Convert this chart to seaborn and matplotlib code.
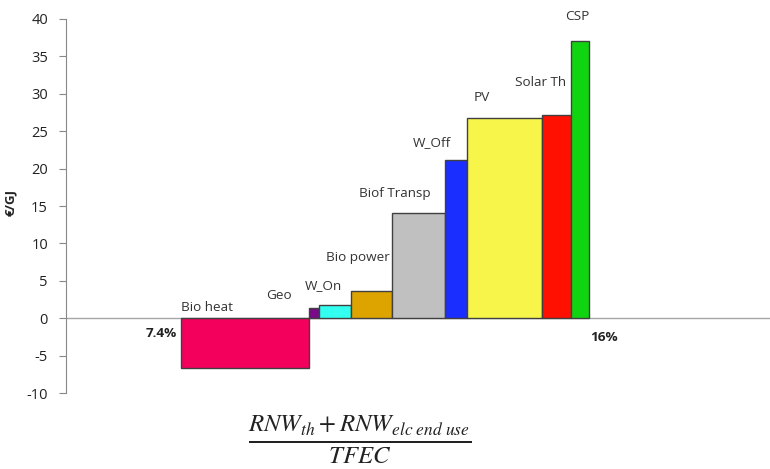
import numpy as np
import matplotlib
matplotlib.use("Agg")
import matplotlib.pyplot as plt
import seaborn as sns

# supply cost curve: share of TFEC (width, %-points) and cost (EUR/GJ)
techs = ['Bio heat', 'Geo', 'W_On', 'Bio power', 'Biof Transp', 'W_Off', 'PV', 'Solar Th', 'CSP']
share_width = [2.69, 0.21, 0.69, 0.86, 1.11, 0.46, 1.58, 0.61, 0.38]
cost = [-6.7, 1.3, 1.8, 3.6, 14.1, 21.2, 26.8, 27.2, 37.1]
colors = ['#F2005C', '#7A0A8A', '#33FFF0', '#DDA400', '#C0C0C0',
          '#1A2EFF', '#F8F54A', '#FF1000', '#11D411']
start_share = 7.4
end_label = '16%'
start_label = '7.4%'

# label anchor points (data coords)
label_x = [7.95, 9.46, 10.40, 11.12, 11.90, 12.69, 13.74, 14.98, 15.74]
label_y = [1.4, 3.0, 4.4, 8.1, 16.7, 23.5, 29.5, 31.5, 40.4]

sns.set_style("white")
plt.rcParams['font.family'] = ['Open Sans', 'DejaVu Sans']
plt.rcParams['mathtext.fontset'] = 'stix'
plt.rcParams['axes.unicode_minus'] = False

fig = plt.figure(figsize=(7.7, 4.69), dpi=100)
ax = fig.add_axes([66 / 770, 1 - 393 / 469, 1 - 66 / 770, (393 - 19) / 469])

lefts = start_share + np.concatenate([[0], np.cumsum(share_width)[:-1]])
ax.bar(lefts, cost, width=share_width, align='edge', color=colors,
       edgecolor='#404040', linewidth=1.0, zorder=3)

ax.axhline(0, color='#A6A6A6', linewidth=1.0, zorder=2)

for name, lx, ly in zip(techs, label_x, label_y):
    ax.text(lx, ly, name, ha='center', va='center', fontsize=9.7, color='#333333')

end_share = start_share + sum(share_width)
ax.text(start_share - 0.08, -2.1, start_label, ha='right', va='center',
        fontsize=9.7, fontweight='bold', color='#222222')
ax.text(end_share + 0.02, -2.6, end_label, ha='left', va='center',
        fontsize=9.7, fontweight='bold', color='#222222')

ax.set_xlim(4.98, 19.8)
ax.set_ylim(-10, 40)
ax.set_yticks(np.arange(-10, 41, 5))
ax.set_xticks([])
ax.set_ylabel('€/GJ', fontsize=9.5, fontweight='bold')
ax.yaxis.set_label_coords((17 - 66) / 704, 0.51)
ax.tick_params(axis='y', direction='out', length=5, width=0.8, color='#888888',
               labelsize=10.5, labelcolor='#222222', pad=8, left=True)

sns.despine(ax=ax, top=True, right=True, bottom=True)
ax.spines['left'].set_color('#888888')
ax.spines['left'].set_linewidth(0.8)

fig.text(360 / 770, 1 - 439 / 469,
         r'$\frac{RNW_{th}+RNW_{elc\ end\ use}}{TFEC}$',
         ha='center', va='center', fontsize=25.5, color='#222222')

fig.savefig('out.png', dpi=100)
